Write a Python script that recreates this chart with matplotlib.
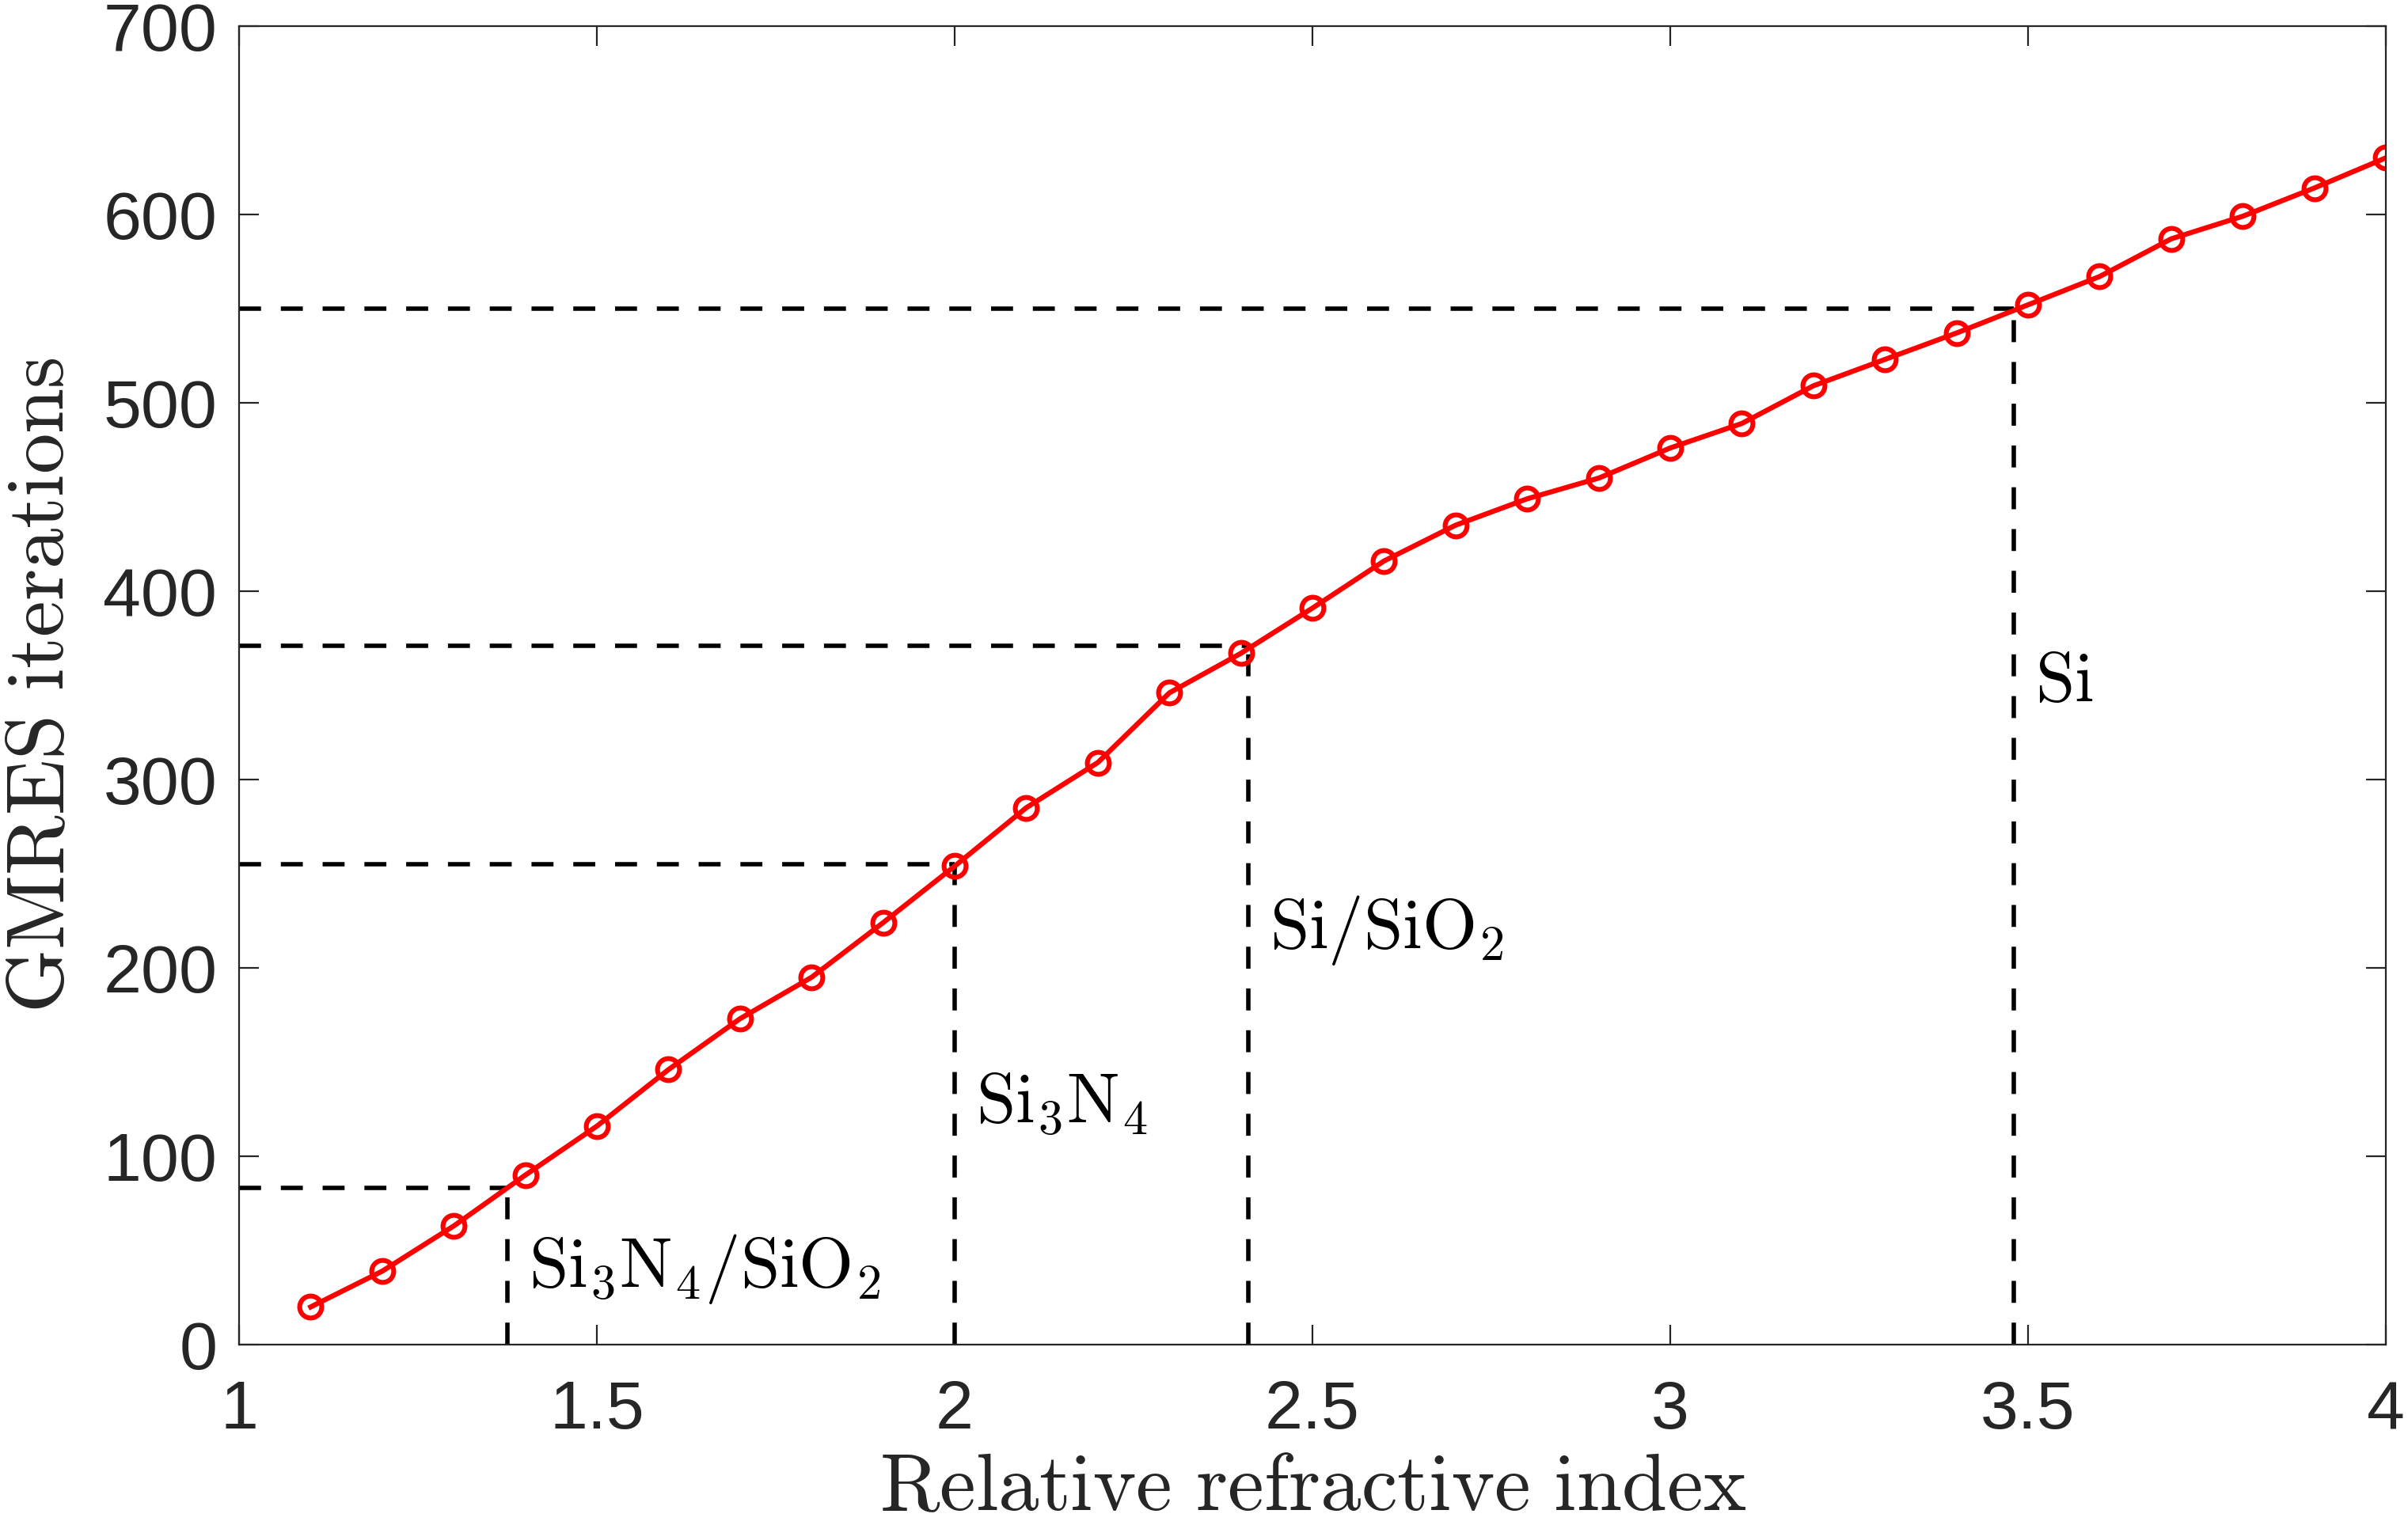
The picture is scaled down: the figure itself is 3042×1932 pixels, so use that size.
import matplotlib.pyplot as plt
import numpy as np

plt.rcParams['mathtext.fontset'] = 'cm'

# refractive index sweep and GMRES iteration counts
n = [1.1, 1.2, 1.3, 1.4, 1.5, 1.6, 1.7, 1.8, 1.9, 2.0,
     2.1, 2.2, 2.3, 2.4, 2.5, 2.6, 2.7, 2.8, 2.9, 3.0,
     3.1, 3.2, 3.3, 3.4, 3.5, 3.6, 3.7, 3.8, 3.9, 4.0]
iters = [20, 39, 63, 90, 116, 146, 173, 195, 224, 254,
         285, 309, 346, 367, 391, 416, 435, 449, 460, 476,
         489, 509, 523, 537, 552, 567, 587, 599, 614, 630]

# material markers
mat_n = [1.375, 2.0, 2.41, 3.48]
mat_it = [83, 255, 371, 550]
mat_lab = [r'$\mathrm{Si_3N_4/SiO_2}$', r'$\mathrm{Si_3N_4}$',
           r'$\mathrm{Si/SiO_2}$', r'$\mathrm{Si}$']
lab_y = [40, 128, 220, 352]

fig = plt.figure(figsize=(15.21, 9.66), dpi=200)
ax = fig.add_axes([0.0993, 0.1206, 0.8915, 0.8624])

for xv, yv in zip(mat_n, mat_it):
    ax.plot([1, xv], [yv, yv], color='k', lw=2.0, dashes=(5, 4.5))
    ax.plot([xv, xv], [0, yv], color='k', lw=2.0, dashes=(5, 4.5))
for xv, ly, t in zip(mat_n, lab_y, mat_lab):
    ax.text(xv + 0.03, ly, t, fontsize=32, va='center', ha='left')

ax.plot(n, iters, color='red', lw=2.3, marker='o', markersize=10,
        markerfacecolor='none', markeredgewidth=2.2)

ax.set_xlim(1, 4)
ax.set_ylim(0, 700)
ax.set_xticks([1, 1.5, 2, 2.5, 3, 3.5, 4])
ax.set_xticklabels(['1', '1.5', '2', '2.5', '3', '3.5', '4'])
ax.set_yticks(np.arange(0, 701, 100))
ax.tick_params(direction='in', top=True, right=True, length=9, width=0.8,
               labelsize=31, colors='#262626')
ax.tick_params(axis='x', pad=16)
ax.tick_params(axis='y', pad=10)
for lab in ax.get_xticklabels() + ax.get_yticklabels():
    lab.set_fontfamily('Liberation Sans')
for s in ax.spines.values():
    s.set_color('#262626')
    s.set_linewidth(0.8)

ax.set_xlabel(r'$\mathrm{Relative\ refractive\ index}$', fontsize=37,
              color='#262626', labelpad=2)
ax.set_ylabel(r'$\mathrm{GMRES\ iterations}$', fontsize=37,
              color='#262626', labelpad=10)

fig.savefig('out.png', dpi=200)
